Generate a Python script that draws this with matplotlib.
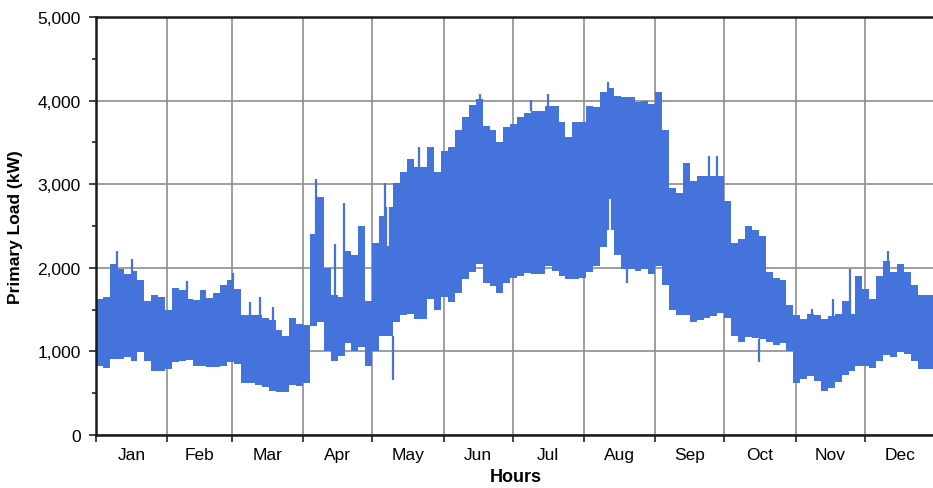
import matplotlib
matplotlib.use("Agg")
import matplotlib.pyplot as plt
import numpy as np

plt.rcParams['font.family'] = ['Liberation Sans', 'DejaVu Sans']

# hourly load summarised in 3-day blocks: top and bottom of the daily swing (kW)
upper = [1630, 1650, 2040, 1990, 1930, 1960, 1850, 1600, 1680, 1650,
         1500, 1760, 1740, 1630, 1610, 1740, 1640, 1700, 1790, 1850,
         1750, 1430, 1430, 1430, 1400, 1380, 1260, 1180, 1400, 1330,
         1320, 2400, 2850, 2000, 1680, 1650, 2200, 2150, 2500, 1600,
         2300, 2620, 2730, 3020, 3150, 3300, 3200, 3200, 3450, 3150,
         3400, 3450, 3650, 3800, 3950, 4020, 3700, 3650, 3500, 3690,
         3720, 3800, 3850, 3870, 3870, 3930, 3930, 3750, 3560, 3750,
         3750, 3930, 3920, 4100, 4150, 4050, 4040, 4040, 3980, 4000,
         3960, 4100, 3650, 2950, 2900, 3250, 3040, 3100, 3100, 3100,
         3100, 2800, 2300, 2350, 2500, 2450, 2380, 1950, 1880, 1850,
         1550, 1430, 1390, 1450, 1430, 1390, 1420, 1450, 1600, 1450,
         1900, 1750, 1630, 1900, 2080, 1950, 2050, 1950, 1800, 1670,
         1670, 1670]
lower = [830, 800, 910, 910, 930, 880, 990, 880, 770, 770,
         790, 870, 880, 900, 830, 830, 810, 810, 820, 870,
         850, 620, 620, 600, 570, 530, 520, 510, 600, 590,
         620, 1300, 1350, 1000, 880, 950, 1100, 1000, 1050, 820,
         1000, 1190, 1190, 1350, 1430, 1450, 1390, 1390, 1630, 1500,
         1650, 1590, 1700, 1870, 1950, 2040, 1820, 1780, 1700, 1820,
         1880, 1900, 1940, 1920, 1920, 2020, 1960, 1900, 1870, 1870,
         1880, 1950, 2020, 2250, 2450, 2150, 1980, 1980, 1960, 1980,
         1920, 2020, 1800, 1500, 1430, 1430, 1350, 1370, 1400, 1420,
         1460, 1400, 1180, 1110, 1170, 1160, 1150, 1110, 1080, 1100,
         1000, 620, 670, 710, 650, 530, 560, 630, 720, 770,
         820, 820, 800, 880, 960, 930, 990, 970, 880, 790,
         790, 790]

# single-hour extremes (day of year, kW)
peak_days = [9.3, 15.8, 39.7, 59.7, 67.0, 71.3, 77.0, 95.5, 103.9, 107.9, 125.6,
             140.5, 166.9, 189.0, 196.6, 222.6, 266.5, 269.7, 311.3, 320.4, 327.7, 344.3]
peak_vals = [2200, 2110, 1840, 1940, 1590, 1650, 1530, 3060, 2290, 2770, 3020,
             3440, 4080, 4010, 4080, 4220, 3340, 3340, 1510, 1630, 1990, 2205]
dip_days = [128.9, 288.1, 230.7]
dip_vals = [660, 870, 1820]
# short drops inside the band (day, from kW, to kW)
gap_days = [126.9, 223.4]
gap_lo = [2260, 2450]
gap_hi = [2730, 2820]

months = ['Jan', 'Feb', 'Mar', 'Apr', 'May', 'Jun',
          'Jul', 'Aug', 'Sep', 'Oct', 'Nov', 'Dec']
month_days = [31, 28, 31, 30, 31, 30, 31, 31, 30, 31, 30, 31]

blue = '#4473DC'

fig = plt.figure(figsize=(9.33, 4.89), dpi=100)
ax = fig.add_axes([96 / 933, 53 / 489, 840 / 933, 418 / 489])

hours = np.arange(len(upper)) * 72
hx = np.append(hours, 8760)
ax.fill_between(hx, np.append(lower, lower[-1]), np.append(upper, upper[-1]),
                step='post', color=blue, linewidth=0)

blk_up = [upper[int(d // 3)] for d in peak_days]
ax.vlines(np.array(peak_days) * 24, blk_up, peak_vals, color=blue, linewidth=1.6)
blk_lo = [lower[int(d // 3)] for d in dip_days]
ax.vlines(np.array(dip_days) * 24, dip_vals, blk_lo, color=blue, linewidth=1.6)
ax.vlines(np.array(gap_days) * 24, gap_lo, gap_hi, color='white', linewidth=1.3)

ax.set_xlim(0, 8760)
ax.set_ylim(0, 5000)

# month boundaries carry the ticks and grid, names sit mid-month
edges = np.concatenate([[0], np.cumsum(month_days)]) * 24
mids = (edges[:-1] + edges[1:]) / 2
ax.set_xticks(edges)
ax.set_xticklabels([])
ax.set_xticks(mids, minor=True)
ax.set_xticklabels(months, minor=True)
ax.tick_params(axis='x', which='major', direction='out', length=5, width=1.2, color='#222222')
ax.tick_params(axis='x', which='minor', length=0, pad=9, labelsize=12.5)

ax.set_yticks(np.arange(0, 5001, 1000))
ax.set_yticks(np.arange(500, 5000, 1000), minor=True)
ax.set_yticklabels(['{:,}'.format(v) for v in range(0, 5001, 1000)])
ax.tick_params(axis='y', which='major', direction='out', length=5, width=1.2,
               pad=6, labelsize=12.5, color='#222222')
ax.tick_params(axis='y', which='minor', direction='out', length=3, width=1.2, color='#222222')

ax.grid(True, which='major', color='#8e8e8e', linewidth=1.2)
ax.set_axisbelow(True)

for side in ['left', 'bottom', 'top']:
    ax.spines[side].set_color('#1a1a1a')
    ax.spines[side].set_linewidth(1.8)
ax.spines['right'].set_visible(False)

ax.set_ylabel('Primary Load (kW)', fontsize=12.5, fontweight='bold', labelpad=10)
ax.set_xlabel('Hours', fontsize=13, fontweight='bold', labelpad=4)

fig.savefig('out.png', dpi=100)
